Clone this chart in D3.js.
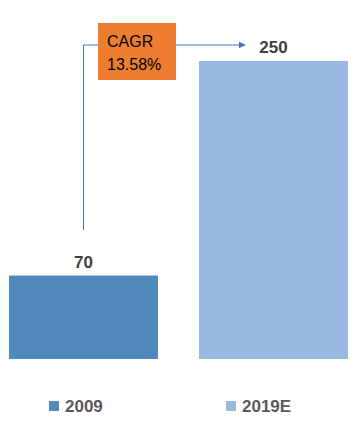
<!DOCTYPE html>
<meta charset="utf-8">
<script src="https://d3js.org/d3.v7.min.js"></script>
<style>
  body { margin: 0; background: #fff; }
  text { font-family: "Liberation Sans", Arial, sans-serif; }
</style>
<div id="chart"></div>
<script>
// data
var categories = ["2009", "2019E"];
var values = [70, 250];
var colors = ["#4F88BB", "#97B9E0"];
var cagrLabel = ["CAGR", "13.58%"];

var width = 359, height = 430;

var svg = d3.select("#chart").append("svg")
    .attr("width", width)
    .attr("height", height);

var x = d3.scaleBand()
    .domain(categories)
    .range([9, 348])
    .paddingInner(0.216)
    .paddingOuter(0);

var y = d3.scaleLinear()
    .domain([0, 250])
    .range([359, 61]);

// bars
svg.selectAll("rect.bar")
    .data(categories)
    .enter().append("rect")
    .attr("class", "bar")
    .attr("x", function(d) { return x(d); })
    .attr("y", function(d, i) { return y(values[i]); })
    .attr("width", x.bandwidth())
    .attr("height", function(d, i) { return y(0) - y(values[i]); })
    .attr("fill", function(d, i) { return colors[i]; });

// value labels
svg.selectAll("text.val")
    .data(categories)
    .enter().append("text")
    .attr("class", "val")
    .attr("x", function(d) { return x(d) + x.bandwidth() / 2; })
    .attr("y", function(d, i) { return y(values[i]) - 8; })
    .attr("text-anchor", "middle")
    .attr("font-size", "17px")
    .attr("font-weight", "bold")
    .attr("fill", "#404040")
    .text(function(d, i) { return values[i]; });

// arrow connector
svg.append("defs").append("marker")
    .attr("id", "arrow")
    .attr("viewBox", "0 0 10 10")
    .attr("refX", 9).attr("refY", 5)
    .attr("markerWidth", 7).attr("markerHeight", 7)
    .attr("orient", "auto")
    .append("path")
    .attr("d", "M0,0L10,5L0,10z")
    .attr("fill", "#4472C4");

var cx = x(categories[0]) + x.bandwidth() / 2;
var arrowY = 45;
svg.append("path")
    .attr("d", "M" + cx + ",230V" + arrowY + "H245")
    .attr("fill", "none")
    .attr("stroke", "#4472C4")
    .attr("stroke-width", 1)
    .attr("marker-end", "url(#arrow)");

// CAGR box
svg.append("rect")
    .attr("x", 98).attr("y", 23)
    .attr("width", 78).attr("height", 57)
    .attr("fill", "#ED7D31");

svg.selectAll("text.cagr")
    .data(cagrLabel)
    .enter().append("text")
    .attr("class", "cagr")
    .attr("x", 107)
    .attr("y", function(d, i) { return 46.5 + i * 23.5; })
    .attr("font-size", "16px")
    .attr("fill", "#000")
    .text(function(d) { return d; });

// legend
var legendX = [49, 226];
var legend = svg.selectAll("g.legend")
    .data(categories)
    .enter().append("g")
    .attr("class", "legend")
    .attr("transform", function(d, i) { return "translate(" + legendX[i] + ",401)"; });

legend.append("rect")
    .attr("width", 10).attr("height", 10)
    .attr("fill", function(d, i) { return colors[i]; });

legend.append("text")
    .attr("x", 16).attr("y", 11)
    .attr("font-size", "17px")
    .attr("font-weight", "bold")
    .attr("fill", "#595959")
    .text(function(d) { return d; });
</script>
